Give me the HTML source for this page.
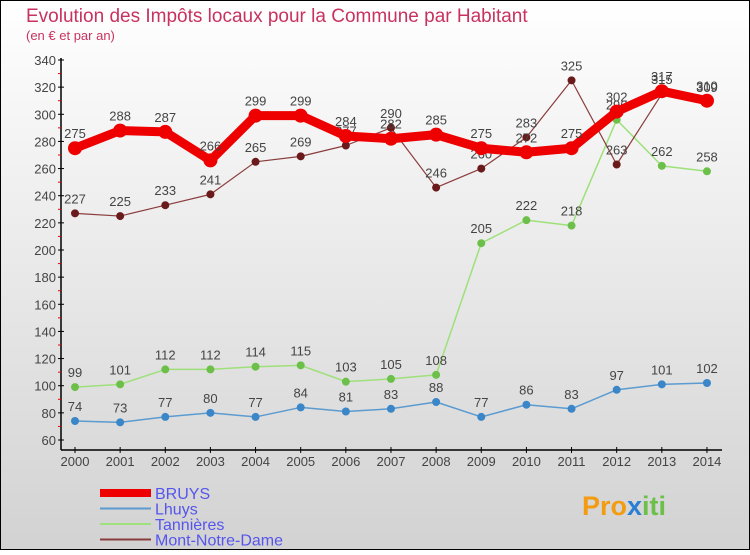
<!DOCTYPE html>
<html><head><meta charset="utf-8"><style>
html,body{margin:0;padding:0}
body{width:750px;height:550px;overflow:hidden;font-family:"Liberation Sans",sans-serif}
svg text{font-family:"Liberation Sans",sans-serif}
</style></head><body>
<svg id="chart" width="750" height="550" xmlns="http://www.w3.org/2000/svg">
<defs><linearGradient id="bg" x1="0" y1="0" x2="0" y2="1"><stop offset="0" stop-color="#ffffff"/><stop offset="1" stop-color="#d2d2d2"/></linearGradient></defs>
<rect x="0" y="0" width="750" height="550" fill="url(#bg)" stroke="#000" stroke-width="2"/>
<text x="26" y="22" font-size="19" fill="#c8325f">Evolution des Impôts locaux pour la Commune par Habitant</text>
<text x="26" y="40" font-size="13" fill="#c8325f">(en € et par an)</text>
<g id="axes"></g><g id="series"></g><g id="legend"></g>
<text x="582" y="515" font-size="27" font-weight="bold" fill="#f39c12">Pro<tspan fill="#2a7fd4">x</tspan><tspan fill="#6cc04a">iti</tspan></text>
</svg>
<script>
const years=[2000,2001,2002,2003,2004,2005,2006,2007,2008,2009,2010,2011,2012,2013,2014];
const yTicks=[60,80,100,120,140,160,180,200,220,240,260,280,300,320,340];
const bruys=[275,288,287,266,299,299,284,282,285,275,272,275,302,317,310];
const lhuys=[74,73,77,80,77,84,81,83,88,77,86,83,97,101,102];
const tannieres=[99,101,112,112,114,115,103,105,108,205,222,218,296,262,258];
const mnd=[227,225,233,241,265,269,277,290,246,260,283,325,263,315,309];
const NS="http://www.w3.org/2000/svg";
const xs=i=>75+i*45.14;
const ys=v=>440-(v-60)*(380/280);
function mk(tag,attrs,parent){const e=document.createElementNS(NS,tag);for(const k in attrs)e.setAttribute(k,attrs[k]);parent.appendChild(e);return e;}
const ax=document.getElementById('axes');
let l=mk('line',{x1:61,y1:58,x2:61,y2:450,stroke:'#000','stroke-width':1.5},ax);


l=mk('line',{x1:61,y1:450,x2:722,y2:450,stroke:'#000','stroke-width':1.5},ax);


yTicks.forEach((t,i)=>{
  const y=ys(t);
  mk('line',{x1:58,y1:y,x2:64,y2:y,stroke:'#000'},ax);
  if(i<yTicks.length-1){mk('line',{x1:58,y1:y-13.57,x2:61,y2:y-13.57,stroke:'#e00'},ax);}
  const tx=mk('text',{x:56,y:y+5,'font-size':13,'text-anchor':'end',fill:'#444'},ax);
  tx.textContent=t;
  
  
});
years.forEach((yr,i)=>{
  const x=xs(i);
  mk('line',{x1:x,y1:447,x2:x,y2:453,stroke:'#000'},ax);
  const tx=mk('text',{x:x,y:466,'font-size':13,'text-anchor':'middle',fill:'#444'},ax);
  tx.textContent=yr;
  
  
});
const sg=document.getElementById('series');
const series=[
 {name:'lhuys',data:lhuys,color:'#5b9bd0',w:1.5,r:4,pc:'#3a86c8'},
 {name:'tannieres',data:tannieres,color:'#9ee07a',w:1.5,r:4,pc:'#6cc04a'},
 {name:'mont-notre-dame',data:mnd,color:'#8a3c3c',w:1.2,r:4,pc:'#6a1a1a'},
 {name:'bruys',data:bruys,color:'#ee0000',w:9,r:7,pc:'#ee0000'}
];
series.forEach(s=>{
  const g=mk('g',{},sg);
  
  
  const p=mk('polyline',{points:s.data.map((v,i)=>xs(i)+','+ys(v)).join(' '),fill:'none',stroke:s.color,'stroke-width':s.w,'stroke-linejoin':'round'},g);
  
  
  s.data.forEach((v,i)=>{
    const c=mk('circle',{cx:xs(i),cy:ys(v),r:s.r,fill:s.pc},g);
    
    
    const t=mk('text',{x:xs(i),y:ys(v)-10,'font-size':13,'text-anchor':'middle',fill:'#444'},g);
    t.textContent=v;
    
    
  });
});
const lg=document.getElementById('legend');
const leg=[['BRUYS','#ee0000',8],['Lhuys','#5b9bd0',2],['Tannières','#9ee07a',2],['Mont-Notre-Dame','#8a3c3c',2]];
leg.forEach((e,i)=>{
  const y=493+i*15.5;
  const g=mk('g',{},lg);
  
  
  mk('line',{x1:100,y1:y,x2:151,y2:y,stroke:e[1],'stroke-width':e[2]},g);
  const t=mk('text',{x:155,y:y+6,'font-size':16,fill:'#5555ee'},g);
  t.textContent=e[0];
  
  
});
</script>
</body></html>
